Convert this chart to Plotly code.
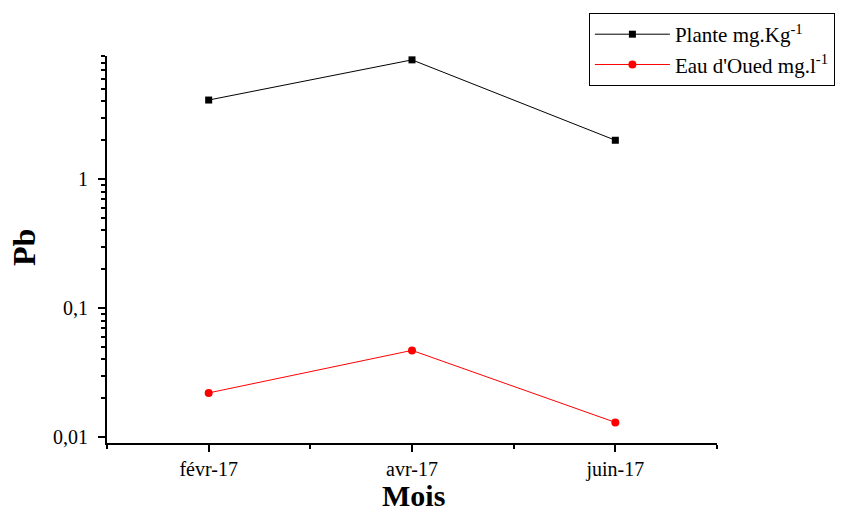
import plotly.graph_objects as go

# Pb concentrations per sampling month (log scale)
months = ["févr-17", "avr-17", "juin-17"]
plante = [4.1, 8.4, 2.0]          # mg.Kg-1
eau_oued = [0.022, 0.047, 0.013]  # mg.l-1

x_idx = list(range(len(months)))

SERIF = "Liberation Serif, Times New Roman, serif"

fig = go.Figure()
fig.add_trace(go.Scatter(
    x=x_idx, y=plante, mode="lines+markers",
    name="Plante mg.Kg<sup>-1</sup>",
    line=dict(color="black", width=1),
    marker=dict(symbol="square", size=7, color="black"),
))
fig.add_trace(go.Scatter(
    x=x_idx, y=eau_oued, mode="lines+markers",
    name="Eau d'Oued mg.l<sup>-1</sup>",
    line=dict(color="red", width=1),
    marker=dict(symbol="circle", size=8, color="red"),
))

# minor tick positions on the log axis: 2..9 within each decade
minor_y = [m * 10 ** e for e in (-2, -1, 0) for m in range(2, 10)]

fig.update_layout(
    width=849, height=515,
    margin=dict(l=107, r=132, t=56, b=72),
    paper_bgcolor="white", plot_bgcolor="white",
    font=dict(family=SERIF, color="black", size=19),
    showlegend=True,
    legend=dict(
        x=0.79, y=1.111, xanchor="left", yanchor="top",
        bordercolor="black", borderwidth=1, bgcolor="white",
        font=dict(family=SERIF, size=21, color="black"),
        tracegroupgap=0, itemwidth=75,
    ),
    xaxis=dict(
        range=[-0.5, 2.5],
        tickmode="array", tickvals=x_idx, ticktext=months,
        ticks="outside", ticklen=7, tickwidth=2, tickcolor="black",
        showline=True, linecolor="black", linewidth=2,
        showgrid=False, zeroline=False,
        minor=dict(tickmode="array", tickvals=[-0.5, 0.5, 1.5, 2.5],
                   ticks="outside", ticklen=4, tickwidth=2, tickcolor="black",
                   showgrid=False),
        tickfont=dict(family=SERIF, size=20),
        automargin=False,
    ),
    yaxis=dict(
        type="log", range=[-2.0458, 0.9542],
        tickmode="array", tickvals=[0.01, 0.1, 1], ticktext=["0,01", "0,1", "1"],
        ticks="outside", ticklen=7, tickwidth=2, tickcolor="black",
        showline=True, linecolor="black", linewidth=2,
        showgrid=False, zeroline=False,
        minor=dict(tickmode="array", tickvals=minor_y,
                   ticks="outside", ticklen=4, tickwidth=2, tickcolor="black",
                   showgrid=False),
        tickfont=dict(family=SERIF, size=20),
        ticklabelstandoff=6,
        automargin=False,
    ),
    annotations=[
        dict(text="<b>Mois</b>", xref="paper", yref="paper", x=0.503, y=-0.1835,
             xanchor="center", yanchor="bottom", showarrow=False,
             font=dict(family=SERIF, size=30, color="black")),
        dict(text="<b>Pb</b>", xref="paper", yref="paper", x=-0.136, y=0.504,
             xanchor="center", yanchor="middle", showarrow=False, textangle=-90,
             font=dict(family=SERIF, size=32, color="black")),
    ],
)

fig.write_html("out.html")
